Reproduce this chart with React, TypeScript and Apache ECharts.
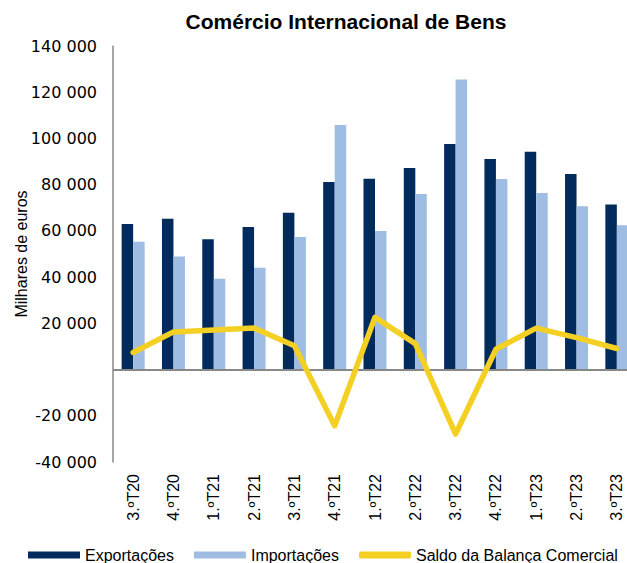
import React, { useEffect, useRef } from "react";
import * as echarts from "echarts";

const categories = ["3.ºT20", "4.ºT20", "1.ºT21", "2.ºT21", "3.ºT21", "4.ºT21", "1.ºT22", "2.ºT22", "3.ºT22", "4.ºT22", "1.ºT23", "2.ºT23", "3.ºT23"];
const exportacoes = [63000, 65200, 56400, 61700, 67800, 81200, 82600, 87200, 97600, 91100, 94200, 84600, 71400];
const importacoes = [55300, 48900, 39300, 44000, 57400, 105800, 60000, 76000, 125500, 82500, 76400, 70700, 62400];
const saldo = [7400, 16300, 17100, 18000, 10300, -24300, 22600, 11200, -27900, 8800, 17900, 13800, 9100];

const fmt = (v: number) => {
  if (v === 0) return "";
  const s = Math.abs(v).toString().replace(/\B(?=(\d{3})+(?!\d))/g, " ");
  return (v < 0 ? "-" : "") + s;
};

export default function App() {
  const ref = useRef<HTMLDivElement>(null);
  useEffect(() => {
    if (!ref.current) return;
    const chart = echarts.init(ref.current, null, { renderer: "svg" });
    const font = "'Liberation Sans', Arial, sans-serif";
    chart.setOption({
      animation: false,
      title: {
        text: "Comércio Internacional de Bens",
        left: 341,
        top: 6,
        textAlign: "center",
        textStyle: { fontFamily: font, fontSize: 21, fontWeight: "bold", color: "#000" },
      },
      legend: {
        left: 28,
        top: 547,
        padding: 0,
        itemWidth: 52,
        itemHeight: 7,
        itemGap: 20,
        textStyle: { fontFamily: font, fontSize: 16, color: "#000" },
        data: [
          { name: "Exportações", icon: "rect" },
          { name: "Importações", icon: "rect" },
          { name: "Saldo da Balança Comercial", icon: "roundRect" },
        ],
      },
      grid: { left: 113, top: 46, width: 524, height: 416, containLabel: false, outerBoundsMode: "none" },
      xAxis: {
        type: "category",
        data: categories,
        axisLine: { show: false },
        axisTick: { show: false },
        axisLabel: { rotate: 90, fontFamily: font, fontSize: 16, color: "#000", margin: 12, interval: 0 },
      },
      yAxis: {
        type: "value",
        min: -40000,
        max: 140000,
        interval: 20000,
        name: "Milhares de euros",
        nameLocation: "middle",
        nameRotate: 90,
        nameGap: 84,
        nameMoveOverlap: false,
        nameTextStyle: { fontFamily: font, fontSize: 16, color: "#000" },
        axisLine: { show: true, lineStyle: { color: "#888", width: 1.5 } },
        axisTick: { show: false },
        splitLine: { show: false },
        axisLabel: { formatter: fmt, fontFamily: "'DejaVu Sans', sans-serif", fontSize: 16, color: "#000", margin: 16 },
      },
      series: [
        {
          name: "Exportações",
          type: "bar",
          data: exportacoes,
          barWidth: 11.5,
          barGap: "0%",
          itemStyle: { color: "#002B5C" },
          markLine: {
            silent: true,
            symbol: "none",
            label: { show: false },
            lineStyle: { color: "#888", width: 2, type: "solid" },
            data: [{ yAxis: 0 }],
          },
        },
        {
          name: "Importações",
          type: "bar",
          data: importacoes,
          barWidth: 11.5,
          itemStyle: { color: "#9FBDE3" },
        },
        {
          name: "Saldo da Balança Comercial",
          type: "line",
          data: saldo,
          symbol: "none",
          z: 5,
          itemStyle: { color: "#F3D023" },
          lineStyle: { color: "#F3D023", width: 5.5, cap: "round", join: "round" },
        },
      ],
    });
    return () => chart.dispose();
  }, []);
  return <div ref={ref} style={{ position: "absolute", left: 0, top: 0, width: 627, height: 563 }} />;
}
